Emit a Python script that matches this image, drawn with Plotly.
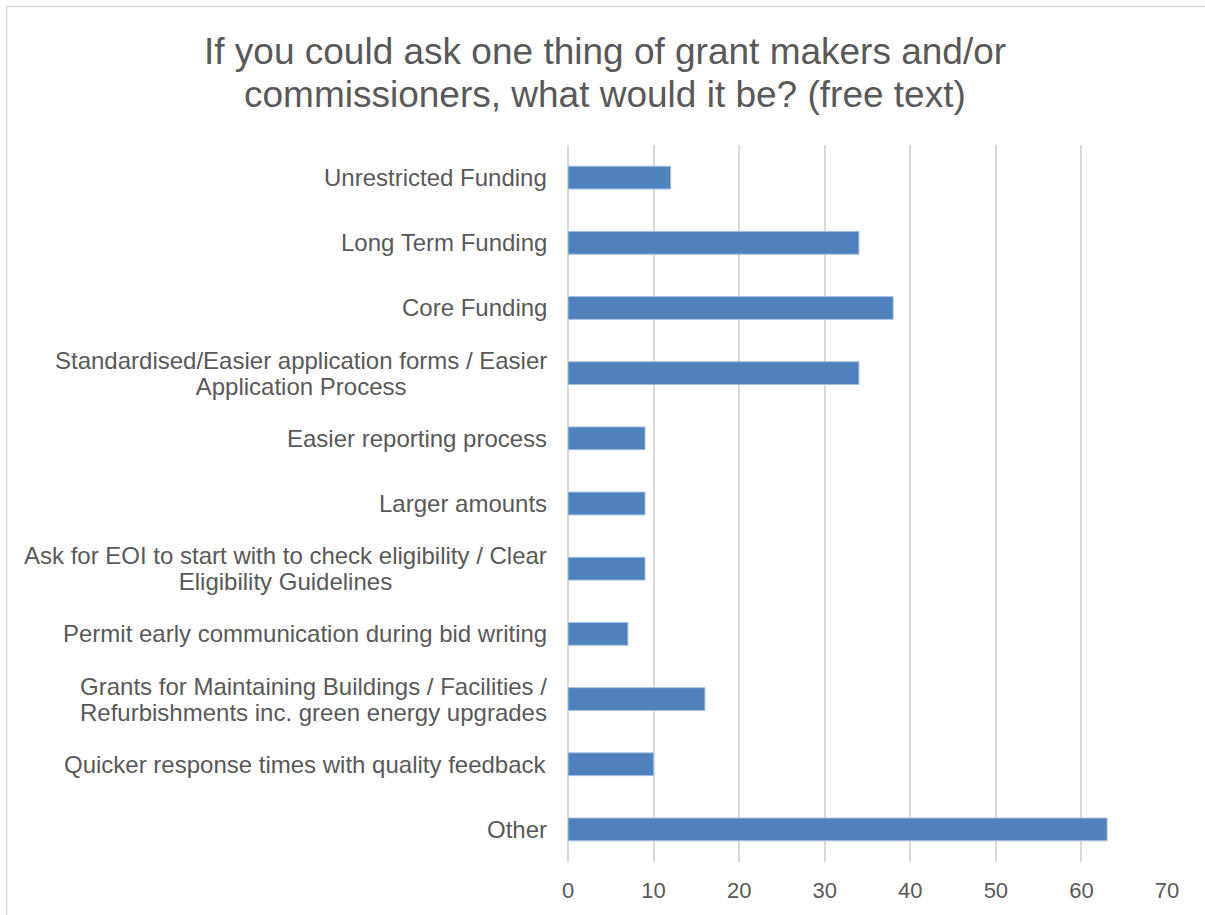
import plotly.graph_objects as go

categories = [
    "Unrestricted Funding",
    "Long Term Funding",
    "Core Funding",
    "Standardised/Easier application forms / Easier<br>Application Process",
    "Easier reporting process",
    "Larger amounts",
    "Ask for EOI to start with to check eligibility / Clear<br>Eligibility Guidelines",
    "Permit early communication during bid writing",
    "Grants for Maintaining Buildings / Facilities /<br>Refurbishments inc. green energy upgrades",
    "Quicker response times with quality feedback",
    "Other",
]
counts = [12, 34, 38, 34, 9, 9, 9, 7, 16, 10, 63]
x_ticks = [0, 10, 20, 30, 40, 50, 60, 70]

title_lines = [
    "If you could ask one thing of grant makers and/or",
    "commissioners, what would it be? (free text)",
]

TEXT = "#595959"
FONT = "Liberation Sans, Arial, sans-serif"

fig = go.Figure(
    go.Bar(
        x=counts,
        y=categories,
        orientation="h",
        width=0.35,
        marker=dict(color="#4f81bd", line=dict(color="#a7c0e0", width=1)),
    )
)


def tight(label):
    # glyphs drawn at 24px while the line pitch follows the 20px base font
    return "<br>".join(
        f'<span style="font-size:24px">{part}</span>' for part in label.split("<br>")
    )


# category labels: block right-aligned against the axis, lines centred
for cat in categories:
    fig.add_annotation(
        x=0, y=cat, xref="x", yref="y",
        text=tight(cat), showarrow=False,
        xanchor="right", yanchor="middle", align="center",
        xshift=-19,
        font=dict(family=FONT, size=20, color=TEXT),
    )

# title, two centred lines
for txt, ypos in zip(title_lines, [1.130, 1.070]):
    fig.add_annotation(
        x=0.062, y=ypos, xref="paper", yref="paper",
        text=txt, showarrow=False,
        xanchor="center", yanchor="middle",
        font=dict(family=FONT, size=37, color=TEXT),
    )

# outer chart border
fig.add_shape(
    type="rect", xref="paper", yref="paper",
    x0=-0.937, x1=1.08, y0=-0.1, y1=1.193,
    line=dict(color="#d9d9d9", width=1.5),
    fillcolor="rgba(0,0,0,0)", layer="below",
)

fig.update_layout(
    width=1205, height=915,
    margin=dict(l=568, r=38, t=145, b=53),
    paper_bgcolor="white", plot_bgcolor="white",
    showlegend=False,
    xaxis=dict(
        range=[0, 70], tickvals=x_ticks,
        showgrid=True, gridcolor="#d9d9d9", gridwidth=1.5,
        zeroline=True, zerolinecolor="#d9d9d9", zerolinewidth=1.5,
        showline=False, ticks="",
        tickfont=dict(family=FONT, size=22, color=TEXT),
        ticklabelstandoff=13,
    ),
    yaxis=dict(
        autorange="reversed",
        showticklabels=False, showgrid=False, zeroline=False, ticks="",
    ),
)

fig.write_html("out.html")
